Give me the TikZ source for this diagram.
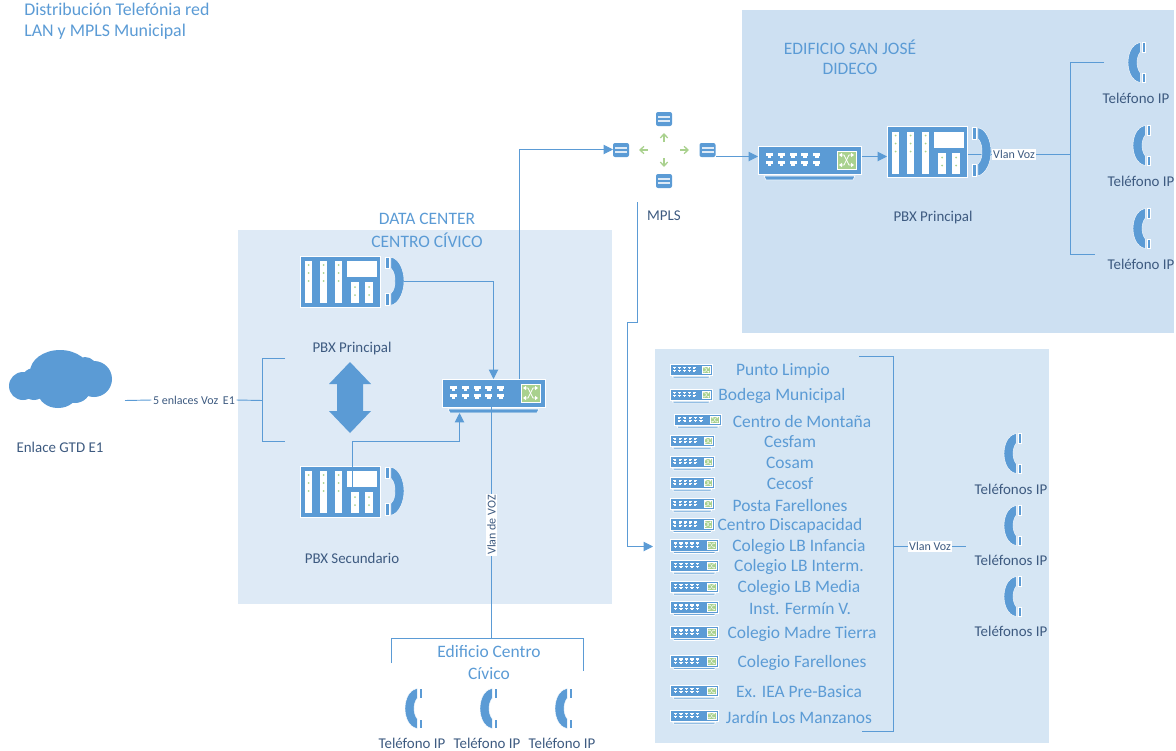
\documentclass[tikz,border=0pt]{standalone}
\usepackage{fontspec}
\setmainfont{Carlito}
\usetikzlibrary{arrows.meta}
\definecolor{bl}{HTML}{5B9BD5}
\definecolor{gr}{HTML}{A9D18E}
\definecolor{dk}{HTML}{3D5A80}
\definecolor{regA}{HTML}{DEEAF6}
\definecolor{regB}{HTML}{CDE0F2}
\definecolor{regC}{HTML}{D6E6F4}
\def\xw{.6pt}
\tikzset{
  conn/.style={draw=bl,line width=.7pt},
  arr/.style={conn,-{Triangle[length=7pt,width=7pt]}},
  grarrow/.style={draw=gr,line width=1pt,-{Straight Barb[length=3pt,width=5.5pt]}},
  region/.style={fill=#1,draw=none},
  bluetxt/.style={text=bl,inner sep=0pt,font=\fontsize{13.1}{15}\selectfont},
  titletxt/.style={text=bl,inner sep=0pt,font=\fontsize{13.4}{15}\selectfont},
  darktxt/.style={text=dk,inner sep=0pt,font=\fontsize{11.2}{13}\selectfont},
  smalltxt/.style={text=dk,fill=white,inner sep=1pt,font=\fontsize{9}{10.5}\selectfont},
  pics/pbxicon/.style={code={
    \fill[bl,draw=white,line width=.5pt] (0,0) rectangle (80,51);
    \foreach \c in {5,20,35}{
      \fill[white] (\c,5) rectangle ++(7.3,42);
      \foreach \d in {9,17,25}{\fill[gr] (\c+3.6,\d) circle (1);}
    }
    \fill[white] (47,5) rectangle (77,21);
    \foreach \c in {51.3,65.3}{
      \fill[white] (\c,26) rectangle ++(7.4,21);
      \foreach \d in {31,39}{\fill[gr] (\c+3.7,\d) circle (1);}
    }
    \fill[bl,draw=white,line width=.3pt] (85.3,1) rectangle (89.3,12.3);
    \fill[bl,draw=white,line width=.3pt] (85.3,37.3) rectangle (89.3,49.3);
    \fill[bl,draw=white,line width=.3pt] (91,1.3) .. controls (99,2.5) and (104,14) .. (104,25)
      .. controls (104,36) and (99,47.5) .. (91,49.3) -- (91,37.3)
      .. controls (94,35) and (95,30) .. (95,25) .. controls (95,20) and (94,15) .. (91,12.3) -- cycle;
  }},
  pics/swicon/.style={code={
    \fill[bl,draw=white,line width=.45pt] (0,0) rectangle (103,28);
    \fill[bl,draw=white,line width=.45pt] (6,30) -- (97,30) -- (95,34) -- (8,34) -- cycle;
    \foreach \c in {8,19.8,31.6,43.4,55.2}{
      \fill[white] (\c,7) rectangle ++(7,2.8);
      \fill[white] (\c+1.7,9.8) rectangle ++(3.6,2.2);
      \fill[white] (\c,15) rectangle ++(7,2.8);
      \fill[white] (\c+1.7,17.8) rectangle ++(3.6,2.2);
    }
    \fill[gr,draw=white,line width=.5pt] (79,5) rectangle (98,23);
    \draw[white,line width=\xw] (83,9) -- (86,9) -- (91,19) -- (94,19);
    \draw[white,line width=\xw] (83,19) -- (86,19) -- (91,9) -- (94,9);
    \fill[white] (81,9) -- (84,6.8) -- (84,11.2) -- cycle;
    \fill[white] (81,19) -- (84,16.8) -- (84,21.2) -- cycle;
    \fill[white] (96,9) -- (93,6.8) -- (93,11.2) -- cycle;
    \fill[white] (96,19) -- (93,16.8) -- (93,21.2) -- cycle;
  }},
  pics/phoneicon/.style={code={
    \fill[bl,draw=white,line width=.3pt] (12.3,.5) .. controls (3,2) and (0,13) .. (0,20.5)
      .. controls (0,28) and (3,39) .. (12.3,40.5) -- (12.3,31)
      .. controls (10,28) and (9,24) .. (9,20.5) .. controls (9,17) and (10,13) .. (12.3,10) -- cycle;
    \fill[bl,draw=white,line width=.3pt] (13.8,.5) rectangle (16.8,10);
    \fill[bl,draw=white,line width=.3pt] (13.8,31) rectangle (16.8,40.5);
  }},
  pics/routericon/.style={code={
    \fill[bl,rounded corners=1.5pt] (0,0) rectangle (16,14);
    \fill[regA] (2,4) rectangle (14,6);
    \fill[regA] (2,8.3) rectangle (14,10.3);
  }},
}
\begin{document}
\begin{tikzpicture}[x=.75pt,y=-.75pt]
\useasboundingbox (0,0) rectangle (1176,750);
% regions
\fill[region=regA] (238,230) rectangle (612,604);
\fill[region=regB] (742,10) rectangle (1174,333);
\fill[region=regC] (655,349) rectangle (1049,743);
% titles
\node[titletxt,anchor=west] (t1) at (24,9) {Distribución Telefónia red};
\node[titletxt,anchor=west] (t2) at (24,32) {LAN y MPLS Municipal};
\node[bluetxt] (dc1) at (427,219) {DATA CENTER};
\node[bluetxt] (dc2) at (427,240) {CENTRO CÍVICO};
\node[bluetxt] (sj1) at (850,47) {EDIFICIO SAN JOSÉ};
\node[bluetxt] (sj2) at (850,68.5) {DIDECO};
\node[bluetxt] (ec1) at (489,651) {Edificio Centro};
\node[bluetxt] (ec2) at (489,673.5) {Cívico};
% named anchors
\coordinate (cloudout) at (125,400.5);
\coordinate (brT) at (285,358.5);
\coordinate (brB) at (285,441.5);
\coordinate (brM) at (262.5,400.5);
\coordinate (botL) at (391.5,663);
\coordinate (botR) at (583.5,671);
\coordinate (botM) at (491.5,638.5);
\coordinate (sjM) at (1070.5,154.5);
\coordinate (sjT) at (1104,62.5);
\coordinate (sjB) at (1095,254.5);
\coordinate (liT) at (859,356.5);
\coordinate (liB) at (862,731.5);
\coordinate (liM) at (893.5,546.5);
\coordinate (liR) at (966,546.5);
\coordinate (mplsOut) at (637.5,202);
\coordinate (liIn) at (653,546.5);
% cloud
\fill[bl] (23,386) circle [radius=14] (60,372) ellipse [x radius=30,y radius=22]
  (85,369) circle [radius=12] (94,379) circle [radius=18] (58,392) ellipse [x radius=20,y radius=16]
  (34,384) ellipse [x radius=14,y radius=16] (75,387) circle [radius=16];
\node[darktxt] (gtd) at (60,447) {Enlace GTD E1};
% connectors below icons
\node[smalltxt,fill=none] (e1) at (194,400) {5 enlaces Voz\, E1};
\draw[conn] (cloudout) -- (e1.west);
\draw[conn] (e1.east) -- (brM);
\draw[conn] (brT) -| (brM) |- (brB);
\coordinate (pbx2top) at (352.5,488);
\coordinate (sw1in1) at (493.5,379);
\coordinate (sw1in2) at (459.5,413);
\coordinate (sw1out) at (519.5,379);
\coordinate (sw1bot) at (491.5,407);
\coordinate (pbx1out) at (404,281.5);
\coordinate (r1in) at (613,149.5);
\coordinate (r4out) at (716,156.5);
\coordinate (sw2in) at (758,156.5);
\coordinate (sw2out) at (862,156.5);
\coordinate (pbx3in) at (887,156.5);
\coordinate (pbx3out) at (968,154.5);
\node[smalltxt] (vv1) at (1014,154.5) {Vlan Voz};
\node[smalltxt] (vv2) at (930,546.5) {Vlan Voz};
\draw[conn] (pbx3out) -- (vv1.west);
\draw[conn] (vv1.east) -- (sjM);
\draw[conn] (sjT) -| (sjM) |- (sjB);
\draw[conn] (liT) -| (liM) |- (liB);
\draw[conn] (liM) -- (vv2.west);
\draw[conn] (vv2.east) -- (liR);
\draw[arr] (mplsOut) |- (627.5,322.5) |- (liIn);
% icons
\pic (pbx1) at (300,256) {pbxicon};
\pic (pbx2) at (300,466) {pbxicon};
\pic (pbx3) at (887,126.5) {pbxicon};
\pic (sw1) at (442,379) {swicon};
\pic (sw2) at (758,146) {swicon};
\draw[arr] (pbx1out) -| (sw1in1);
\draw[arr] (pbx2top) |- (400,441.5) -| (sw1in2);
\draw[arr] (sw1out) |- (r1in);
\draw[arr] (r4out) -- (sw2in);
\draw[arr] (sw2out) -- (pbx3in);
\node[smalltxt,rotate=90] (vd) at (491.5,525) {Vlan de VOZ};
\draw[conn] (sw1bot) -- (vd.east);
\draw[conn] (vd.west) -- (botM);
\draw[conn] (botL) |- (botM) -| (botR);
\path[fill=bl] (350,362) -- (371,384) -- (363,384) -- (363,411) -- (371,411) -- (350,433) -- (329,411) -- (337,411) -- (337,384) -- (329,384) -- cycle;
\node[darktxt] (lp1) at (352,349) {PBX Principal};
\node[darktxt] (lp2) at (352,558) {PBX Secundario};
\node[darktxt] (lp3) at (933,218) {PBX Principal};
\node[darktxt] (lm) at (664,216) {MPLS};
% MPLS
\pic (r1) at (613,143) {routericon};
\pic (r2) at (656,112) {routericon};
\pic (r3) at (656,174) {routericon};
\pic (r4) at (699.5,143) {routericon};
\coordinate (mu1) at (664,142);\coordinate (mu2) at (664,133);
\coordinate (ml1) at (648,150);\coordinate (ml2) at (639,150);
\coordinate (mr1) at (680,150);\coordinate (mr2) at (689,150);
\coordinate (md1) at (664,158);\coordinate (md2) at (664,167);
\draw[grarrow] (mu1) -- (mu2);
\draw[grarrow] (ml1) -- (ml2);
\draw[grarrow] (mr1) -- (mr2);
\draw[grarrow] (md1) -- (md2);
% phones
\pic at (1128,42) {phoneicon};
\pic at (1133,125) {phoneicon};
\pic at (1133,208) {phoneicon};
\node[darktxt] (pa) at (1136,98) {Teléfono IP};
\node[darktxt] (pb) at (1141,181) {Teléfono IP};
\node[darktxt] (pc) at (1141,264) {Teléfono IP};
\pic at (405,688) {phoneicon};
\pic at (480,688) {phoneicon};
\pic at (555,688) {phoneicon};
\node[darktxt] (pd) at (412,743) {Teléfono IP};
\node[darktxt] (pe) at (487,743) {Teléfono IP};
\node[darktxt] (pf) at (562,743) {Teléfono IP};
\pic at (1004,433) {phoneicon};
\pic at (1004,505) {phoneicon};
\pic at (1004,576) {phoneicon};
\node[darktxt] (pg) at (1011,489) {Teléfonos IP};
\node[darktxt] (ph) at (1011,560) {Teléfonos IP};
\node[darktxt] (pi) at (1011,631) {Teléfonos IP};
% list
\foreach \n/\xx/\yy/\w/\tx/\lab in {
  a/670/364/.41/783/Punto Limpio,
  b/670/389/.41/782/Bodega Municipal,
  c/674/414/.46/802/Centro de Montaña,
  d/670/435/.43/790/Cesfam,
  e/670/456/.43/790/Cosam,
  f/670/477/.43/790/Cecosf,
  g/670/498/.43/790/Posta Farellones,
  h/670/518.5/.43/790/Centro Discapacidad,
  i/670/539.5/.47/799/Colegio LB Infancia,
  j/670/560/.47/799/Colegio LB Interm.,
  k/670/581/.47/799/Colegio LB Media,
  l/670/601.5/.47/800/Inst. Fermín V.,
  m/670/626.5/.47/802/Colegio Madre Tierra,
  n/670/655.5/.47/802/Colegio Farellones,
  o/670/685/.47/799/Ex. IEA Pre-Basica,
  p/670/710/.47/799/Jardín Los Manzanos}{
  \def\xw{.25pt}
  \pic[xscale=\w,yscale=.41] at (\xx,\yy) {swicon};
  \node[bluetxt] (it\n) at (\tx,\yy+7) {\lab};
}
\end{tikzpicture}
\end{document}
